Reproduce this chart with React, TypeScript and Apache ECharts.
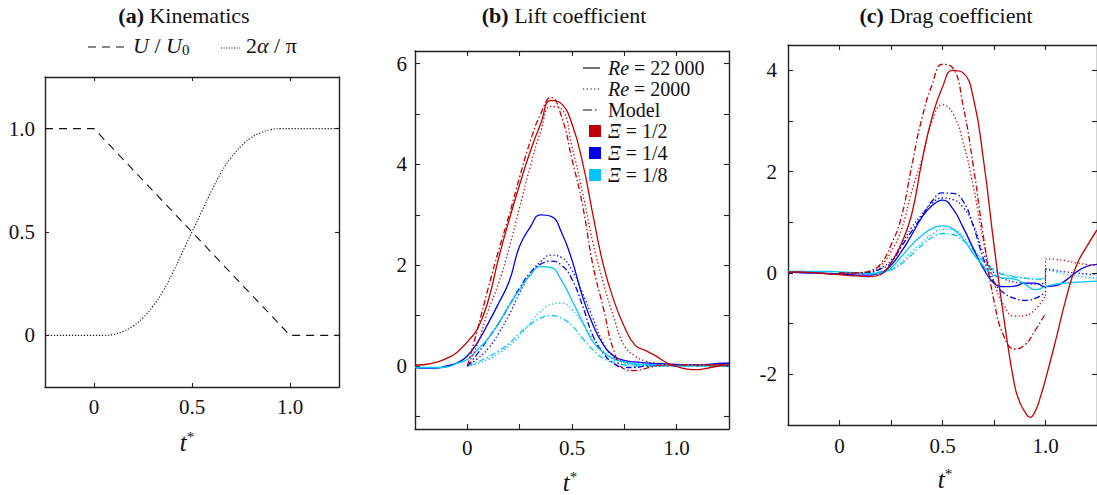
import React, { useEffect, useRef } from "react";
import * as echarts from "echarts";

// ---------- time bases ----------
const T_FULL = [-0.25, -0.2, -0.15, -0.1, -0.05, 0, 0.05, 0.1, 0.15, 0.2, 0.25, 0.3, 0.35, 0.4, 0.45, 0.5, 0.55, 0.6, 0.65, 0.7, 0.75, 0.8, 0.85, 0.9, 0.95, 1.0, 1.05, 1.1, 1.15, 1.2, 1.25];
const T_FROM0 = [0, 0.05, 0.1, 0.15, 0.2, 0.25, 0.3, 0.35, 0.4, 0.45, 0.5, 0.55, 0.6, 0.65, 0.7, 0.75, 0.8, 0.85, 0.9, 0.95, 1.0, 1.05, 1.1, 1.15, 1.2, 1.25];
const T_MOTION = [0, 0.05, 0.1, 0.15, 0.2, 0.25, 0.3, 0.35, 0.4, 0.45, 0.5, 0.55, 0.6, 0.65, 0.7, 0.75, 0.8, 0.85, 0.9, 0.95, 1.0];
const T_AFTER = [1.0, 1.05, 1.1, 1.15, 1.2, 1.25];
// finer sampling read around the deep drag minimum
const T_DRAG_RED = [-0.25, -0.2, -0.15, -0.1, -0.05, 0, 0.05, 0.1, 0.15, 0.2, 0.25, 0.3, 0.35, 0.4, 0.45, 0.5, 0.55, 0.6, 0.65, 0.7, 0.75, 0.8, 0.85, 0.875, 0.9, 0.925, 0.95, 0.975, 1.0, 1.05, 1.1, 1.15, 1.2, 1.25];

// ---------- (a) kinematics ----------
const KIN_U_T = [-0.25, 0, 1.0, 1.25];
const KIN_U = [1, 1, 0, 0];
const KIN_ALPHA_T = [-0.25, 0, 0.05, 0.1, 0.15, 0.2, 0.25, 0.3, 0.35, 0.4, 0.45, 0.5, 0.55, 0.6, 0.65, 0.7, 0.75, 0.8, 0.85, 0.9, 0.95, 1.0, 1.25];
const KIN_ALPHA = [0, 0, 0, 0.005, 0.02, 0.045, 0.085, 0.14, 0.21, 0.3, 0.4, 0.5, 0.6, 0.7, 0.79, 0.86, 0.915, 0.955, 0.98, 0.995, 1.0, 1.0, 1.0];

// ---------- (b) lift coefficient ----------
const LIFT_RE22000_HALF = [0.02, 0.03, 0.07, 0.15, 0.27, 0.48, 0.75, 1.3, 2.15, 2.9, 3.6, 4.25, 4.8, 5.27, 5.2, 4.8, 4.05, 3.0, 2.0, 1.3, 0.78, 0.42, 0.31, 0.2, 0.07, -0.01, -0.06, -0.07, -0.04, 0.0, 0.03];
const LIFT_RE2000_HALF = [0, 0.45, 1.1, 1.65, 2.35, 3.15, 3.95, 4.65, 5.15, 5.1, 4.35, 3.45, 2.45, 1.65, 0.96, 0.4, 0.2, 0.1, 0.05, 0.02, 0.02, 0.02, 0.02, 0.02, 0.02, 0.02];
const LIFT_MODEL_HALF = [0, 0.75, 1.55, 2.3, 3.0, 3.75, 4.45, 5.0, 5.33, 4.95, 4.1, 3.2, 2.0, 1.15, 0.3, -0.06, -0.09, -0.05, 0.0, 0.02, 0.02, 0.02, 0.02, 0.02, 0.02, 0.02];
const LIFT_RE22000_QUARTER = [-0.03, -0.04, -0.04, 0.0, 0.06, 0.2, 0.48, 0.85, 1.25, 1.68, 2.38, 2.75, 3.0, 2.97, 2.65, 2.1, 1.38, 0.82, 0.42, 0.2, 0.11, 0.08, 0.06, 0.05, 0.04, 0.03, 0.02, 0.02, 0.03, 0.05, 0.06];
const LIFT_RE2000_QUARTER = [0, 0.15, 0.35, 0.65, 1.02, 1.45, 1.82, 2.07, 2.2, 2.15, 1.9, 1.45, 0.95, 0.45, 0.18, 0.08, 0.04, 0.03, 0.02, 0.02, 0.02, 0.02, 0.02, 0.02, 0.02, 0.02];
const LIFT_MODEL_QUARTER = [0, 0.25, 0.55, 0.85, 1.2, 1.55, 1.85, 2.02, 2.08, 2.0, 1.72, 1.2, 0.6, 0.25, 0.05, -0.03, -0.03, 0.0, 0.01, 0.01, 0.01, 0.01, 0.01, 0.01, 0.01, 0.01];
const LIFT_RE22000_EIGHTH = [-0.03, -0.03, -0.03, -0.02, 0.05, 0.13, 0.33, 0.55, 0.85, 1.2, 1.52, 1.8, 1.97, 1.95, 1.7, 1.3, 0.88, 0.48, 0.27, 0.14, 0.08, 0.04, 0.03, 0.02, 0.02, 0.01, 0.01, 0.01, 0.01, 0.01, 0.01];
const LIFT_RE2000_EIGHTH = [0, 0.05, 0.13, 0.25, 0.4, 0.6, 0.85, 1.08, 1.22, 1.25, 1.12, 0.85, 0.55, 0.3, 0.12, 0.05, 0.02, 0.01, 0.01, 0.01, 0.01, 0.01, 0.01, 0.01, 0.01, 0.01];
const LIFT_MODEL_EIGHTH = [0, 0.08, 0.18, 0.3, 0.45, 0.65, 0.82, 0.95, 1.0, 0.95, 0.8, 0.55, 0.32, 0.15, 0.07, 0.02, 0, 0, 0, 0, 0, 0, 0, 0, 0, 0];

// ---------- (c) drag coefficient ----------
const DRAG_RE22000_HALF = [0.02, 0.02, 0.01, 0.0, -0.02, -0.03, -0.05, -0.06, -0.07, -0.03, 0.2, 0.58, 1.15, 2.2, 3.08, 3.67, 4.0, 3.95, 3.45, 2.2, 0.55, -0.95, -2.22, -2.55, -2.74, -2.85, -2.73, -2.45, -2.1, -1.32, -0.5, 0.15, 0.52, 0.85];
const DRAG_RE2000_HALF = [0, 0, 0, 0.05, 0.15, 0.42, 0.85, 1.6, 2.25, 3.0, 3.32, 3.15, 2.58, 1.7, 0.6, -0.18, -0.65, -0.85, -0.84, -0.72, -0.45];
const DRAG_RE2000_HALF_AFTER = [0.28, 0.27, 0.24, 0.2, 0.17, 0.15];
const DRAG_MODEL_HALF = [0, 0, 0.01, 0.04, 0.18, 0.55, 1.1, 2.1, 3.05, 3.72, 4.12, 4.05, 3.3, 2.1, 0.68, -0.55, -1.27, -1.5, -1.42, -1.13, -0.8];
const DRAG_RE22000_QUARTER = [0.02, 0.01, 0.0, 0.0, -0.01, -0.02, -0.03, -0.04, -0.04, 0.0, 0.15, 0.42, 0.75, 1.1, 1.33, 1.44, 1.27, 0.9, 0.48, 0.08, -0.2, -0.27, -0.26, -0.2, -0.2, -0.27, -0.25, -0.14, 0.02, 0.13, 0.17];
const DRAG_RE2000_QUARTER = [0, 0, 0, 0.02, 0.1, 0.25, 0.55, 0.9, 1.15, 1.38, 1.48, 1.45, 1.3, 0.95, 0.38, 0.0, -0.12, -0.18, -0.2, -0.22, -0.2];
const DRAG_RE2000_QUARTER_AFTER = [0.08, 0.05, 0.02, 0.0, -0.02, -0.03];
const DRAG_MODEL_QUARTER = [0, 0, 0, 0.02, 0.08, 0.2, 0.52, 0.82, 1.12, 1.42, 1.58, 1.57, 1.42, 0.92, 0.27, -0.18, -0.4, -0.5, -0.54, -0.5, -0.38];
const DRAG_RE22000_EIGHTH = [0.03, 0.03, 0.03, 0.03, 0.03, 0.02, 0.01, 0.0, -0.01, 0.0, 0.1, 0.32, 0.55, 0.74, 0.88, 0.93, 0.87, 0.67, 0.38, 0.13, -0.05, -0.1, -0.12, -0.22, -0.33, -0.27, -0.22, -0.2, -0.18, -0.17, -0.16];
const DRAG_RE2000_EIGHTH = [0, 0, 0, 0, 0.02, 0.07, 0.22, 0.42, 0.6, 0.77, 0.86, 0.86, 0.72, 0.48, 0.25, 0.08, -0.02, -0.06, -0.1, -0.12, -0.1];
const DRAG_RE2000_EIGHTH_AFTER = [0.08, 0.02, -0.03, -0.06, -0.08, -0.1];
const DRAG_MODEL_EIGHTH = [0, 0, 0, 0, 0.02, 0.06, 0.18, 0.36, 0.55, 0.7, 0.78, 0.76, 0.64, 0.45, 0.22, 0.05, -0.04, -0.08, -0.1, -0.12, -0.12];

// ---------- ticks / labels ----------
const A_X_TICKS = [0, 0.5, 1.0];
const A_Y_TICKS = [0, 0.5, 1.0];
const BC_X_TICKS = [0, 0.25, 0.5, 0.75, 1.0];
const BC_X_LABELS = [0, 0.5, 1.0];
const B_Y_TICKS = [-1, 0, 1, 2, 3, 4, 5, 6];
const B_Y_LABELS = [0, 2, 4, 6];
const C_Y_TICKS = [-2, -1, 0, 1, 2, 3, 4];
const C_Y_LABELS = [-2, 0, 2, 4];

const LEGEND_RE = ["22\u2009000", "2000"];
const LEGEND_XI = ["1/2", "1/4", "1/8"];

const RED = "#c00000";
const BLUE = "#0000ee";
const CYAN = "#00c4ff";
const AXIS = "#222";
const FAMILY = "'Liberation Serif', 'DejaVu Serif', serif";

const DOT = [1.3, 2.4];
const DASHDOT = [6, 2.5, 1.5, 2.5];

function pairs(t: number[], v: number[]) {
  return t.map((x, i) => [x, v[i]]);
}

function fmt(v: number) {
  if (v === 1) return "1.0";
  return String(v);
}

function axes(g: number, xr: number[], yr: number[], xt: number[], xl: number[], yt: number[], yl: number[], tickLen: number, xm: number, ym: number) {
  const common = (pos: string, r: number[], ticks: number[], labels: number[], showLabel: boolean, margin: number) => ({
    type: "value",
    gridIndex: g,
    position: pos,
    min: r[0],
    max: r[1],
    splitLine: { show: false },
    axisLine: { show: true, onZero: false, lineStyle: { color: AXIS, width: 1.4 } },
    axisTick: { show: true, inside: true, length: tickLen, customValues: ticks, lineStyle: { color: AXIS, width: 1.1 } },
    axisLabel: {
      show: showLabel,
      customValues: labels,
      formatter: fmt,
      color: "#111",
      fontFamily: FAMILY,
      fontSize: 21,
      margin,
    },
  });
  return {
    x: [common("bottom", xr, xt, xl, true, xm), common("top", xr, xt, xl, false, xm)],
    y: [common("left", yr, yt, yl, true, ym), common("right", yr, yt, yl, false, ym)],
  };
}

function ln(grid: number, data: number[][], color: string, dash: any, width = 1.3, smooth: any = 0.5) {
  return {
    type: "line",
    xAxisIndex: grid * 2,
    yAxisIndex: grid * 2,
    data,
    symbol: "none",
    showSymbol: false,
    smooth,
    clip: true,
    silent: true,
    lineStyle: { color, width, type: dash },
  };
}

// a curve that jumps at the end of the motion: before part, vertical jump, after part
function jumpLines(grid: number, before: number[], after: number[], color: string, dash: any) {
  const last = before.length - 1;
  return [
    ln(grid, pairs(T_MOTION, before), color, dash),
    ln(grid, [[T_MOTION[last], before[last]], [T_AFTER[0], after[0]]], color, dash, 1.3, false),
    ln(grid, pairs(T_AFTER, after), color, dash),
  ];
}

const fnt = (size: number, style = "normal", weight = "normal") => `${style} ${weight} ${size}px ${FAMILY}`;

export default function App() {
  const ref = useRef<HTMLDivElement>(null);
  useEffect(() => {
    document.body.style.margin = "0";
    const chart = echarts.init(ref.current!, undefined, { renderer: "svg" });

    const aAx = axes(0, [-0.25, 1.25], [-0.25, 1.25], A_X_TICKS, A_X_TICKS, A_Y_TICKS, A_Y_TICKS, 4, 9, 10);
    const bAx = axes(1, [-0.25, 1.25], [-1.25, 6.25], BC_X_TICKS, BC_X_LABELS, B_Y_TICKS, B_Y_LABELS, 5, 8, 8);
    const cAx = axes(2, [-0.25, 1.25], [-3, 4.5], BC_X_TICKS, BC_X_LABELS, C_Y_TICKS, C_Y_LABELS, 5, 10, 11);

    const series: any[] = [
      ln(0, pairs(KIN_U_T, KIN_U), "#111", [8, 6], 1.1, false),
      ln(0, pairs(KIN_ALPHA_T, KIN_ALPHA), "#111", [1.2, 1.8], 1.1, 0.5),

      ln(1, pairs(T_FROM0, LIFT_MODEL_EIGHTH), CYAN, DASHDOT),
      ln(1, pairs(T_FROM0, LIFT_RE2000_EIGHTH), CYAN, DOT),
      ln(1, pairs(T_FROM0, LIFT_MODEL_QUARTER), BLUE, DASHDOT),
      ln(1, pairs(T_FROM0, LIFT_RE2000_QUARTER), BLUE, DOT),
      ln(1, pairs(T_FULL, LIFT_RE22000_QUARTER), BLUE, "solid"),
      ln(1, pairs(T_FULL, LIFT_RE22000_EIGHTH), CYAN, "solid"),
      ln(1, pairs(T_FROM0, LIFT_MODEL_HALF), RED, DASHDOT),
      ln(1, pairs(T_FROM0, LIFT_RE2000_HALF), RED, DOT),
      ln(1, pairs(T_FULL, LIFT_RE22000_HALF), RED, "solid"),

      ln(2, pairs(T_MOTION, DRAG_MODEL_EIGHTH), CYAN, DASHDOT),
      ...jumpLines(2, DRAG_RE2000_EIGHTH, DRAG_RE2000_EIGHTH_AFTER, CYAN, DOT),
      ln(2, pairs(T_MOTION, DRAG_MODEL_QUARTER), BLUE, DASHDOT),
      ...jumpLines(2, DRAG_RE2000_QUARTER, DRAG_RE2000_QUARTER_AFTER, BLUE, DOT),
      ln(2, pairs(T_FULL, DRAG_RE22000_QUARTER), BLUE, "solid"),
      ln(2, pairs(T_FULL, DRAG_RE22000_EIGHTH), CYAN, "solid"),
      ln(2, pairs(T_MOTION, DRAG_MODEL_HALF), RED, DASHDOT),
      ...jumpLines(2, DRAG_RE2000_HALF, DRAG_RE2000_HALF_AFTER, RED, DOT),
      ln(2, pairs(T_DRAG_RED, DRAG_RE22000_HALF), RED, "solid"),
    ];

    const txt = (x: number, y: number, text: string, size: number, align: string, rich: any) => ({
      type: "text",
      x,
      y,
      silent: true,
      style: {
        text,
        font: fnt(size),
        fill: "#111",
        textAlign: align,
        textVerticalAlign: "middle",
        align,
        verticalAlign: "middle",
        rich,
      },
    });
    const seg = (x1: number, y1: number, x2: number, y2: number, dash: any, color = "#111", w = 1.2) => ({
      type: "line",
      silent: true,
      shape: { x1, y1, x2, y2 },
      style: { stroke: color, lineWidth: w, lineDash: dash },
    });

    const tok = (size: number, style = "normal", weight = "normal", extra: any = {}) => ({
      font: fnt(size, style, weight),
      fontSize: size,
      fontStyle: style,
      fontWeight: weight,
      fontFamily: FAMILY,
      fill: "#111",
      ...extra,
    });

    const legendRich = (size: number) => ({ n: tok(size), i: tok(size, "italic") });
    const supRich = (size: number) => ({
      i: tok(size, "italic", "normal", { lineHeight: 26 }),
      s: tok(Math.round(size * 0.6), "normal", "normal", { lineHeight: 10, verticalAlign: "top" }),
    });
    const subRich = (size: number) => ({
      i: tok(size, "italic", "normal", { lineHeight: 24 }),
      n: tok(size, "normal", "normal", { lineHeight: 24 }),
      s: tok(Math.round(size * 0.68), "normal", "normal", { lineHeight: 9, verticalAlign: "bottom" }),
    });
    const titleRich = (size: number) => ({ b: tok(size, "normal", "bold"), n: tok(size) });

    const legRows = [68, 89, 110, 131, 153, 175];
    const graphic: any[] = [
      txt(184, 15, "{b|(a)}{n| Kinematics}", 22, "center", titleRich(22)),
      txt(564, 15, "{b|(b)}{n| Lift coefficient}", 22, "center", titleRich(22)),
      txt(946, 15, "{b|(c)}{n| Drag coefficient}", 22, "center", titleRich(22)),

      seg(88, 47, 126, 47, [8, 6]),
      txt(133, 45, "{i|U}{n| / }{i|U}{s|0}", 22, "left", subRich(22)),
      seg(221, 48, 240, 48, [1, 1.6]),
      txt(246, 45, "{n|2}{i|α}{n| / π}", 22, "left", subRich(22)),

      seg(583, legRows[0], 600, legRows[0], null),
      txt(608, legRows[0], "{i|Re}{n| = " + LEGEND_RE[0] + "}", 20, "left", legendRich(20)),
      seg(583, legRows[1], 600, legRows[1], DOT),
      txt(608, legRows[1], "{i|Re}{n| = " + LEGEND_RE[1] + "}", 20, "left", legendRich(20)),
      seg(583, legRows[2], 600, legRows[2], [9, 3, 1.5, 10]),
      txt(608, legRows[2], "{n|Model}", 20, "left", legendRich(20)),
      { type: "rect", silent: true, shape: { x: 589, y: legRows[3] - 6, width: 12, height: 12 }, style: { fill: RED } },
      txt(608, legRows[3], "{i|Ξ}{n| = " + LEGEND_XI[0] + "}", 20, "left", legendRich(20)),
      { type: "rect", silent: true, shape: { x: 589, y: legRows[4] - 6, width: 12, height: 12 }, style: { fill: BLUE } },
      txt(608, legRows[4], "{i|Ξ}{n| = " + LEGEND_XI[1] + "}", 20, "left", legendRich(20)),
      { type: "rect", silent: true, shape: { x: 589, y: legRows[5] - 6, width: 12, height: 12 }, style: { fill: CYAN } },
      txt(608, legRows[5], "{i|Ξ}{n| = " + LEGEND_XI[2] + "}", 20, "left", legendRich(20)),

      txt(187, 442, "{i|t}{s|*}", 25, "center", supRich(25)),
      txt(570, 482, "{i|t}{s|*}", 25, "center", supRich(25)),
      txt(945, 479, "{i|t}{s|*}", 25, "center", supRich(25)),
    ];

    chart.setOption({
      animation: false,
      backgroundColor: "#ffffff",
      grid: [
        { left: 45, top: 77, width: 294, height: 310 },
        { left: 415, top: 51, width: 314, height: 378 },
        { left: 788, top: 45, width: 319, height: 380 },
      ],
      xAxis: [...aAx.x, ...bAx.x, ...cAx.x],
      yAxis: [...aAx.y, ...bAx.y, ...cAx.y],
      series,
      graphic,
    });
    return () => chart.dispose();
  }, []);
  return <div ref={ref} style={{ width: 1097, height: 495 }} />;
}
